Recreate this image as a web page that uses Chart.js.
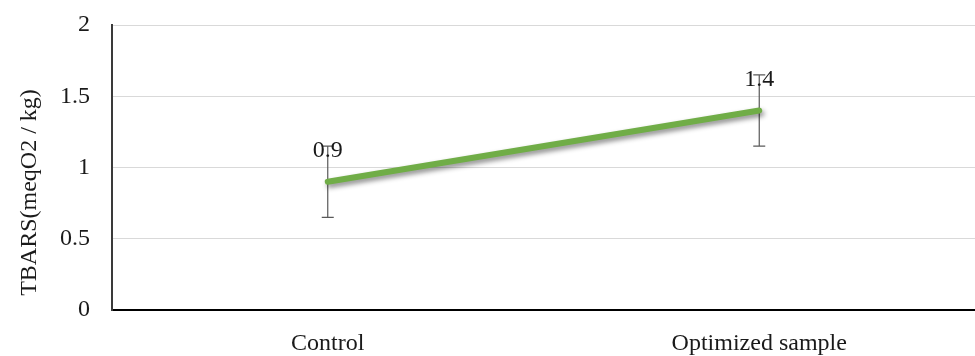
<!DOCTYPE html>
<html>
<head>
<meta charset="utf-8">
<script src="https://cdn.jsdelivr.net/npm/chart.js@4/dist/chart.umd.min.js"></script>
<style>
  html, body { margin: 0; padding: 0; background: #ffffff; }
  #wrap { width: 975px; height: 356px; }
</style>
</head>
<body>
<div id="wrap"><canvas id="c" width="975" height="356"></canvas></div>
<script>
// TBARS values per sample, with symmetric error margins
const categories = ['Control', 'Optimized sample'];
const tbarsValues = [0.9, 1.4];
const tbarsErrors = [0.25, 0.25];
const yTicks = [0, 0.5, 1, 1.5, 2];
const yTitle = 'TBARS(meqO2 / kg)';

const SERIF = '"Liberation Serif", "DejaVu Serif", serif';
const GREEN = '#70ad47';
const FONT_SIZE = 24;

// Vertical error bars with caps, placed through the chart's scales
const errorBarPlugin = {
  id: 'errorBars',
  beforeDatasetsDraw(chart) {
    const { ctx, scales: { x, y } } = chart;
    ctx.save();
    ctx.strokeStyle = '#595959';
    ctx.lineWidth = 1.2;
    tbarsValues.forEach((v, i) => {
      const px = x.getPixelForValue(i);
      const yLo = y.getPixelForValue(v - tbarsErrors[i]);
      const yHi = y.getPixelForValue(v + tbarsErrors[i]);
      ctx.beginPath();
      ctx.moveTo(px, yLo); ctx.lineTo(px, yHi);
      ctx.moveTo(px - 6, yLo); ctx.lineTo(px + 6, yLo);
      ctx.moveTo(px - 6, yHi); ctx.lineTo(px + 6, yHi);
      ctx.stroke();
    });
    ctx.restore();
  }
};

// Soft drop shadow under the line
const lineShadowPlugin = {
  id: 'lineShadow',
  beforeDatasetDraw(chart) {
    const ctx = chart.ctx;
    ctx.save();
    ctx.shadowColor = 'rgba(0,0,0,0.45)';
    ctx.shadowBlur = 5;
    ctx.shadowOffsetX = 2;
    ctx.shadowOffsetY = 3;
  },
  afterDatasetDraw(chart) {
    chart.ctx.restore();
  }
};

// Value labels above each point
const valueLabelPlugin = {
  id: 'valueLabels',
  afterDatasetsDraw(chart) {
    const { ctx } = chart;
    const meta = chart.getDatasetMeta(0);
    ctx.save();
    ctx.font = FONT_SIZE + 'px ' + SERIF;
    ctx.fillStyle = '#1a1a1a';
    ctx.textAlign = 'center';
    ctx.textBaseline = 'alphabetic';
    meta.data.forEach((pt, i) => {
      ctx.fillText(String(tbarsValues[i]), pt.x, pt.y - 25);
    });
    ctx.restore();
  }
};

// Rotated y-axis title, centred a little below the plot's middle
const yTitlePlugin = {
  id: 'yTitle',
  afterDraw(chart) {
    const { ctx, chartArea } = chart;
    ctx.save();
    ctx.font = FONT_SIZE + 'px ' + SERIF;
    ctx.fillStyle = '#1a1a1a';
    ctx.textAlign = 'center';
    ctx.textBaseline = 'middle';
    ctx.translate(30, (chartArea.top + chartArea.bottom) / 2 + 25);
    ctx.rotate(-Math.PI / 2);
    ctx.fillText(yTitle, 0, 0);
    ctx.restore();
  }
};

new Chart(document.getElementById('c'), {
  type: 'line',
  data: {
    labels: categories,
    datasets: [{
      data: tbarsValues,
      borderColor: GREEN,
      borderWidth: 6,
      borderCapStyle: 'round',
      pointRadius: 0,
      pointHoverRadius: 0,
      tension: 0,
      fill: false
    }]
  },
  options: {
    responsive: false,
    animation: false,
    events: [],
    layout: { padding: { top: 25, right: 0, left: 0, bottom: 0 } },
    plugins: {
      legend: { display: false },
      tooltip: { enabled: false }
    },
    scales: {
      x: {
        offset: true,
        grid: { display: false, drawTicks: false },
        border: { display: true, color: '#000000', width: 2 },
        ticks: {
          color: '#1a1a1a',
          font: { family: SERIF, size: FONT_SIZE },
          padding: 19,
          maxRotation: 0
        },
        afterFit(scale) {
          scale.height = 46;
          scale.paddingLeft = 0;
          scale.paddingRight = 0;
        }
      },
      y: {
        min: 0,
        max: 2,
        afterBuildTicks(scale) { scale.ticks = yTicks.map(v => ({ value: v })); },
        grid: { color: '#d9d9d9', lineWidth: 1, drawTicks: false },
        border: { display: true, color: '#3a3a3a', width: 2 },
        ticks: {
          color: '#1a1a1a',
          font: { family: SERIF, size: FONT_SIZE },
          padding: 22,
          callback: (v) => String(v)
        },
        afterFit(scale) {
          scale.width = 112;
          scale.paddingTop = 0;
          scale.paddingBottom = 0;
        }
      }
    }
  },
  plugins: [errorBarPlugin, lineShadowPlugin, valueLabelPlugin, yTitlePlugin]
});
</script>
</body>
</html>
